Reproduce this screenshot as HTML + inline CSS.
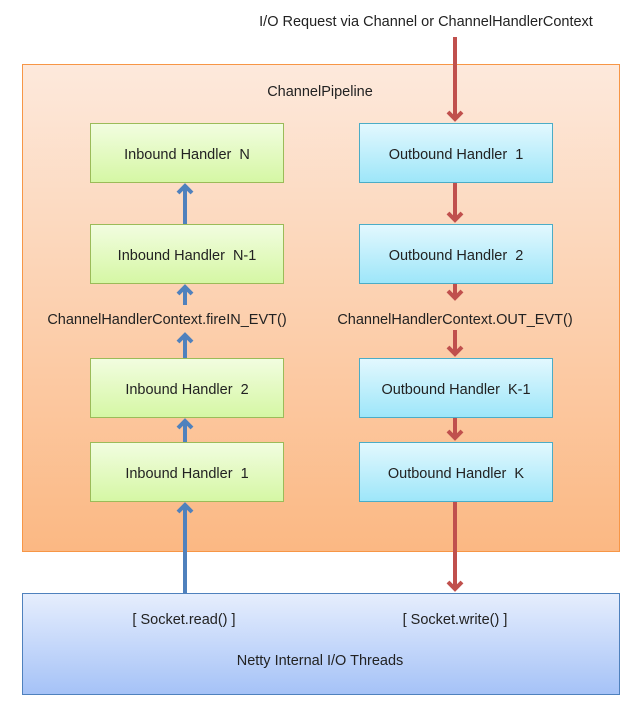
<!DOCTYPE html>
<html><head><meta charset="utf-8"><style>
html,body{margin:0;padding:0;background:#fff;}
svg{display:block;font-family:"Liberation Sans",sans-serif;}
text{white-space:pre;}
</style></head><body>
<svg width="639" height="711" viewBox="0 0 639 711" xmlns="http://www.w3.org/2000/svg">
<defs>
<linearGradient id="pg" x1="0" y1="0" x2="0" y2="1"><stop offset="0" stop-color="#fde9dc"/><stop offset="1" stop-color="#fbb883"/></linearGradient>
<linearGradient id="gg" x1="0" y1="0" x2="0" y2="1"><stop offset="0" stop-color="#f2fde0"/><stop offset="1" stop-color="#d5f7a4"/></linearGradient>
<linearGradient id="cg" x1="0" y1="0" x2="0" y2="1"><stop offset="0" stop-color="#e3f8fe"/><stop offset="1" stop-color="#9de6f9"/></linearGradient>
<linearGradient id="bg" x1="0" y1="0" x2="0" y2="1"><stop offset="0" stop-color="#e6eefd"/><stop offset="1" stop-color="#a5c2f7"/></linearGradient>
</defs>
<rect x="22.5" y="64.5" width="597" height="487" fill="url(#pg)" stroke="#f79646"/>
<rect x="22.5" y="593.5" width="597" height="101" fill="url(#bg)" stroke="#4f81bd"/>
<g stroke="#9bbb59" fill="url(#gg)">
<rect x="90.5" y="123.5" width="193" height="59"/><rect x="90.5" y="224.5" width="193" height="59"/>
<rect x="90.5" y="358.5" width="193" height="59"/><rect x="90.5" y="442.5" width="193" height="59"/>
</g>
<g stroke="#4bacc6" fill="url(#cg)">
<rect x="359.5" y="123.5" width="193" height="59"/><rect x="359.5" y="224.5" width="193" height="59"/>
<rect x="359.5" y="358.5" width="193" height="59"/><rect x="359.5" y="442.5" width="193" height="59"/>
</g>
<g stroke="#4f81bd" stroke-width="4" fill="none">
<line x1="185" y1="593" x2="185" y2="505"/><polyline points="178,512 185,505 192,512"/>
<line x1="185" y1="442" x2="185" y2="421"/><polyline points="178,428 185,421 192,428"/>
<line x1="185" y1="358" x2="185" y2="335"/><polyline points="178,342 185,335 192,342"/>
<line x1="185" y1="305" x2="185" y2="287"/><polyline points="178,294 185,287 192,294"/>
<line x1="185" y1="224" x2="185" y2="186"/><polyline points="178,193 185,186 192,193"/>
</g>
<g stroke="#c0504d" stroke-width="4" fill="none">
<line x1="455" y1="37" x2="455" y2="119"/><polyline points="448,112 455,119 462,112"/>
<line x1="455" y1="183" x2="455" y2="220"/><polyline points="448,213 455,220 462,213"/>
<line x1="455" y1="284" x2="455" y2="298"/><polyline points="448,291 455,298 462,291"/>
<line x1="455" y1="330" x2="455" y2="354"/><polyline points="448,347 455,354 462,347"/>
<line x1="455" y1="418" x2="455" y2="438"/><polyline points="448,431 455,438 462,431"/>
<line x1="455" y1="502" x2="455" y2="589"/><polyline points="448,582 455,589 462,582"/>
</g>
<g font-size="14.5" fill="#222" text-anchor="middle">
<text x="426" y="26">I/O Request via Channel or ChannelHandlerContext</text>
<text x="320" y="96">ChannelPipeline</text>
<text x="187" y="159">Inbound Handler  N</text>
<text x="187" y="260">Inbound Handler  N-1</text>
<text x="187" y="394">Inbound Handler  2</text>
<text x="187" y="478">Inbound Handler  1</text>
<text x="456" y="159">Outbound Handler  1</text>
<text x="456" y="260">Outbound Handler  2</text>
<text x="456" y="394">Outbound Handler  K-1</text>
<text x="456" y="478">Outbound Handler  K</text>
<text x="167" y="324">ChannelHandlerContext.fireIN_EVT()</text>
<text x="455" y="324">ChannelHandlerContext.OUT_EVT()</text>
<text x="184" y="624">[ Socket.read() ]</text>
<text x="455" y="624">[ Socket.write() ]</text>
<text x="320" y="665">Netty Internal I/O Threads</text>
</g>
</svg>
</body></html>
